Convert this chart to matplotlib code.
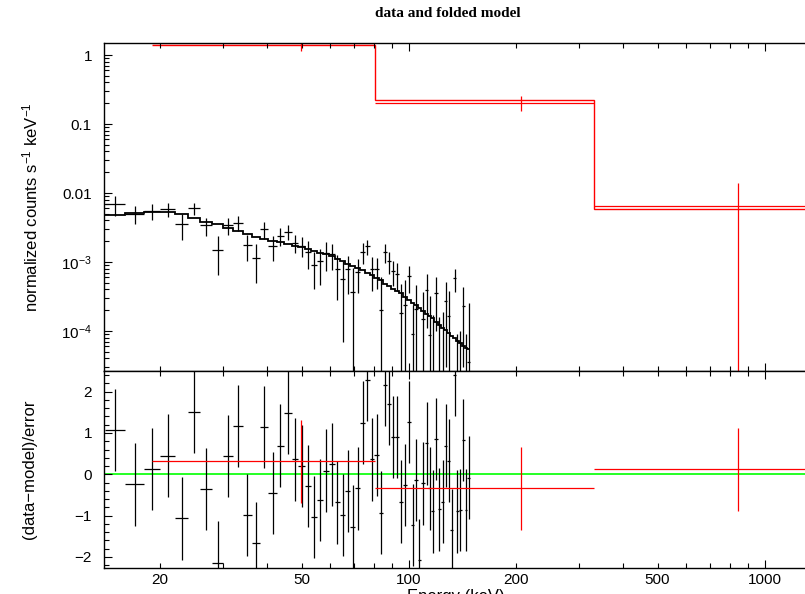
import numpy as np
import matplotlib
matplotlib.use('Agg')
import matplotlib.pyplot as plt
from matplotlib.ticker import FixedLocator, FixedFormatter, NullFormatter, MultipleLocator, LogLocator

plt.rcParams['font.family'] = 'Liberation Sans'
plt.rcParams['mathtext.fontset'] = 'custom'
plt.rcParams['mathtext.rm'] = 'Liberation Sans'
plt.rcParams['mathtext.it'] = 'Liberation Sans:italic'
plt.rcParams['mathtext.bf'] = 'Liberation Sans:bold'

# black spectrum: channel edges (keV)
edges = [14.0, 16.0, 18.0, 20.0, 22.1, 24.0, 25.9, 28.0, 30.1, 32.2, 34.3, 36.2,
         38.2, 40.3, 42.6, 44.6, 46.9, 49.0, 51.1, 53.2, 55.4, 57.6, 59.7, 62.0,
         64.1, 66.4, 68.6, 70.8, 73.1, 75.4, 77.7, 80.1, 82.4, 84.7, 87.1, 89.4,
         91.5, 93.7, 96.2, 98.7, 101.3, 103.7, 106.0, 108.3, 110.9, 113.5, 115.7,
         118.0, 120.6, 123.2, 125.9, 128.4, 130.6, 133.2, 135.8, 138.2, 140.9,
         143.7, 146.1, 148.7]

model = [4.8e-3, 5.08e-3, 5.3e-3, 5.36e-3, 4.91e-3, 4.3e-3, 3.76e-3, 3.5e-3, 3.16e-3, 2.81e-3,
         2.55e-3, 2.34e-3, 2.19e-3, 2.05e-3, 1.92e-3, 1.82e-3, 1.73e-3, 1.65e-3, 1.54e-3, 1.44e-3,
         1.35e-3, 1.29e-3, 1.22e-3, 1.12e-3, 1.03e-3, 9.5e-4, 8.9e-4, 8.2e-4, 7.65e-4, 7.05e-4,
         6.5e-4, 5.87e-4, 5.4e-4, 4.88e-4, 4.49e-4, 4.13e-4, 3.86e-4, 3.55e-4, 3.16e-4, 2.86e-4,
         2.59e-4, 2.38e-4, 2.19e-4, 1.98e-4, 1.79e-4, 1.65e-4, 1.52e-4, 1.37e-4, 1.24e-4, 1.12e-4,
         1.02e-4, 9.35e-5, 8.6e-5, 7.8e-5, 7.2e-5, 6.6e-5, 6.07e-5, 5.67e-5, 5.4e-5]

rate = [6.9e-3, 5.0e-3, 5.45e-3, 5.8e-3, 3.5e-3, 6.0e-3, 3.4e-3, 1.5e-3, 3.4e-3, 3.7e-3,
        1.75e-3, 1.15e-3, 3.0e-3, 1.7e-3, 2.4e-3, 2.75e-3, 1.9e-3, 1.72e-3, 1.4e-3, 9.0e-4,
        1.02e-3, 1.34e-3, 1.3e-3, 7.8e-4, 5.6e-4, 7.9e-4, 3.7e-4, 7.2e-4, 1.4e-3, 1.68e-3,
        7.8e-4, 7.8e-4, 2.0e-4, 1.4e-3, 1.05e-3, 7.5e-4, 6.8e-4, 1.8e-4, 2.4e-4, 6.2e-4,
        9.0e-5, 2.1e-4, -3.0e-4, 1.5e-4, 3.9e-4, 8.7e-5, -5.0e-5, 3.5e-4, -6.0e-5, -3.0e-5,
        2.7e-4, 1.66e-4, -2.1e-4, 5.8e-4, -1.3e-4, -1.2e-4, 2.3e-4, -1.3e-4, 3.6e-5]

rate_err = [2.2e-3, 1.5e-3, 1.4e-3, 1.3e-3, 1.4e-3, 1.2e-3, 1.0e-3, 8.6e-4, 9.0e-4, 9.2e-4,
            7.1e-4, 6.6e-4, 8.3e-4, 6.6e-4, 6.9e-4, 6.4e-4, 5.6e-4, 5.5e-4, 6.0e-4, 5.0e-4,
            5.5e-4, 6.0e-4, 5.4e-4, 5.0e-4, 4.9e-4, 4.5e-4, 4.5e-4, 3.7e-4, 4.7e-4, 4.0e-4,
            4.0e-4, 3.8e-4, 4.0e-4, 4.2e-4, 3.7e-4, 3.0e-4, 3.0e-4, 3.0e-4, 3.0e-4, 2.6e-4,
            1.5e-4, 2.6e-4, 2.5e-4, 2.2e-4, 2.8e-4, 2.3e-4, 2.2e-4, 2.5e-4, 2.2e-4, 2.2e-4,
            2.4e-4, 2.2e-4, 2.2e-4, 2.1e-4, 2.2e-4, 2.2e-4, 2.0e-4, 2.2e-4, 2.2e-4]

resid = [1.07, -0.24, 0.13, 0.45, -1.07, 1.51, -0.36, -2.14, 0.44, 1.17,
         -0.99, -1.67, 1.15, -0.45, 0.69, 1.49, 0.36, 0.2, -0.28, -1.03,
         -0.62, 0.09, 0.24, -0.68, -0.99, -0.4, -1.27, -0.34, 1.25, 2.28,
         0.36, 0.47, -0.93, 2.16, 1.7, 0.9, 0.9, -0.66, -0.26, 1.27,
         -1.23, -0.14, -2.08, -0.22, 0.75, -0.34, -0.9, 0.85, -0.85, -0.66,
         0.69, 0.33, -1.35, 2.4, -0.9, -0.86, 0.83, -0.86, -0.08]

# red spectrum: three wide channels
red_edges = [19.0, 80.4, 332.0, 1354.0]
red_model = [1.40, 0.221, 5.85e-3]
red_rate = [1.48, 0.204, 6.5e-3]
red_err = [0.33, 0.05, 7.6e-3]
red_resid = [0.31, -0.34, 0.12]

e = np.array(edges)
ec = (e[:-1] + e[1:]) / 2
ew = (e[1:] - e[:-1]) / 2
re = np.array(red_edges)
rc = (re[:-1] + re[1:]) / 2
rw = (re[1:] - re[:-1]) / 2

fig = plt.figure(figsize=(8.05, 5.94), dpi=100)
ax1 = fig.add_axes([0.1298, 0.3759, 0.8722, 0.5525])
ax2 = fig.add_axes([0.1298, 0.0446, 0.8722, 0.3313])

# top: data and folded model
ax1.errorbar(ec, rate, xerr=ew, yerr=rate_err, fmt='none', ecolor='black', elinewidth=0.9)
ax1.stairs(model, edges, baseline=None, color='black', linewidth=1.3)
ax1.errorbar(rc, red_rate, xerr=rw, yerr=red_err, fmt='none', ecolor='red', elinewidth=0.9)
ax1.stairs(red_model, red_edges, baseline=None, color='red', linewidth=1.0)

# bottom: residuals
ax2.axhline(0, color='#00ff00', linewidth=1.2, zorder=1)
ax2.errorbar(ec, resid, xerr=ew, yerr=1, fmt='none', ecolor='black', elinewidth=0.9)
ax2.errorbar(rc, red_resid, xerr=rw, yerr=1, fmt='none', ecolor='red', elinewidth=0.9)

minor_x = [20, 30, 40, 50, 60, 70, 80, 90, 200, 300, 400, 500, 600, 700, 800, 900]
minor_lab = ['20', '', '', '50', '', '', '', '', '200', '', '', '500', '', '', '', '']

for ax in (ax1, ax2):
    ax.set_xscale('log')
    ax.set_xlim(13.98, 1311)
    ax.xaxis.set_major_locator(FixedLocator([10, 100, 1000]))
    ax.xaxis.set_minor_locator(FixedLocator(minor_x))
    ax.tick_params(which='both', direction='in', top=True, right=False, width=0.8,
                   labelsize=11, colors='black')
    ax.tick_params(which='major', length=6)
    ax.tick_params(which='minor', length=3.5)
    ax.tick_params(axis='y', which='both', pad=9)
    for s in ax.spines.values():
        s.set_linewidth(1.0)

ax1.xaxis.set_major_formatter(NullFormatter())
ax1.xaxis.set_minor_formatter(NullFormatter())
ax2.xaxis.set_major_formatter(FixedFormatter(['10', '100', '1000']))
ax2.xaxis.set_minor_formatter(FixedFormatter(minor_lab))
ax2.tick_params(axis='x', which='both', pad=4)

ax1.set_yscale('log')
ax1.set_ylim(2.66e-5, 1.517)
ax1.yaxis.set_major_locator(FixedLocator([1e-4, 1e-3, 1e-2, 0.1, 1]))
ax1.yaxis.set_major_formatter(FixedFormatter([r'$10^{-4}$', r'$10^{-3}$', '0.01', '0.1', '1']))
ax1.yaxis.set_minor_locator(LogLocator(base=10, subs=np.arange(2, 10), numticks=20))
ax1.yaxis.set_minor_formatter(NullFormatter())

ax2.set_ylim(-2.257, 2.508)
ax2.yaxis.set_major_locator(MultipleLocator(1))
ax2.yaxis.set_minor_locator(MultipleLocator(0.2))

fig.text(0.5565, 0.978, 'data and folded model', family='Liberation Serif',
         weight='bold', size=11, ha='center', va='center')
fig.text(30 / 805, 1 - 207 / 594, r'normalized counts s$^{-1}$ keV$^{-1}$',
         rotation=90, ha='center', va='center', size=12)
fig.text(30 / 805, 1 - 469 / 594, '(data\u2212model)/error',
         rotation=90, ha='center', va='center', size=12)
fig.text(0.566, 1 - 589 / 594, 'Energy (keV)', ha='center', va='top', size=12)

fig.savefig('out.png', dpi=100)
